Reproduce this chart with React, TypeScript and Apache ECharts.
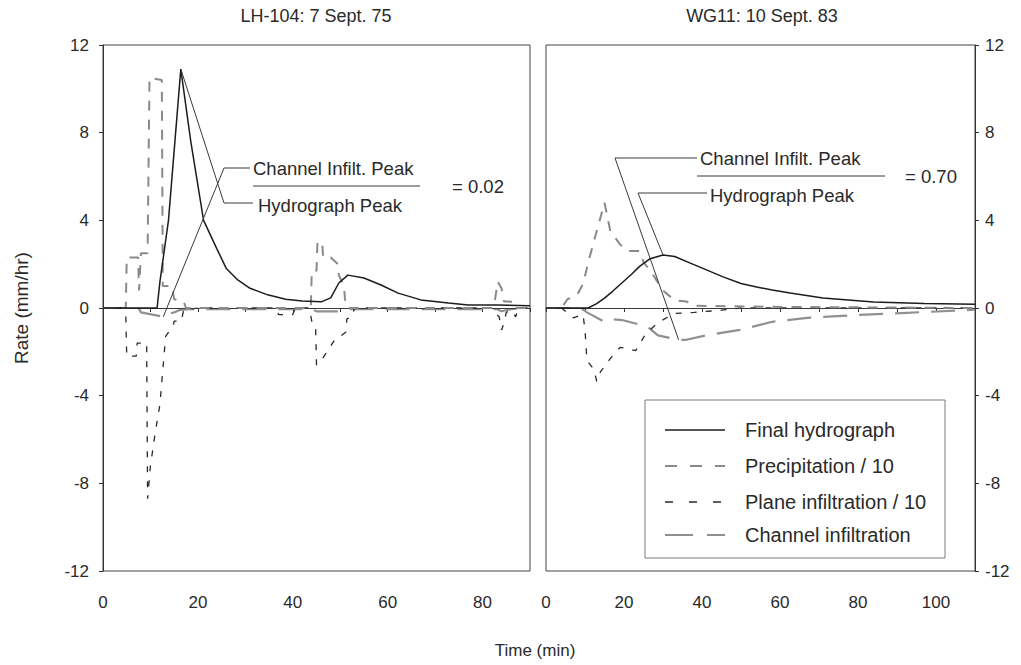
import React, { useEffect, useRef } from "react";
import * as echarts from "echarts";

const leftTitle = "LH-104: 7 Sept. 75";
const rightTitle = "WG11: 10 Sept. 83";
const xAxisName = "Time (min)";
const yAxisName = "Rate (mm/hr)";
const seriesNames = ["Final hydrograph", "Precipitation / 10", "Plane infiltration / 10", "Channel infiltration"];
const leftRatio = "= 0.02";
const rightRatio = "= 0.70";
const peakTop = "Channel Infilt. Peak";
const peakBottom = "Hydrograph Peak";

// ---- Left panel: LH-104 ----
const lHydroT = [0, 11.4, 12, 13.8, 16.4, 18.5, 21.2, 24, 26, 28.4, 31, 34.7, 38.5, 42, 46, 48, 49.7, 51.6, 55, 58.6, 62.2, 67, 72.8, 77, 83, 90];
const lHydroV = [0, 0, 1.2, 4.0, 10.9, 7.6, 4.0, 2.7, 1.8, 1.28, 0.9, 0.6, 0.4, 0.32, 0.28, 0.46, 1.14, 1.5, 1.37, 1.05, 0.68, 0.37, 0.23, 0.14, 0.14, 0.1];

const lPrecT = [0, 4.8, 5, 7.4, 7.6, 8, 9.4, 9.8, 12.4, 12.6, 14.5, 15, 17, 17.5, 43.8, 44, 45, 45.2, 46.2, 46.4, 48, 49.5, 49.7, 50.8, 51, 51.5, 82, 82.5, 83.2, 84, 84.5, 86, 86.2, 90];
const lPrecV = [0, 0, 2.3, 2.3, 0.8, 2.5, 2.5, 10.5, 10.4, 1.0, 1.0, 0.4, 0.3, 0, 0, 1.7, 1.7, 3.0, 3.0, 2.3, 2.3, 2.0, 1.5, 1.0, 0.4, 0, 0, 0.2, 1.2, 0.9, 0.3, 0.3, 0, 0];

const lPlaneT = [0, 4.5, 4.8, 5, 7, 7.2, 9.2, 9.4, 10, 11, 12, 12.5, 13.2, 14.8, 15, 16.5, 17, 20, 36.5, 37, 40, 40.5, 43.5, 44, 44.8, 45, 46, 47.5, 49, 50, 51.2, 51.4, 52.5, 53, 82, 82.5, 83.5, 84, 84.5, 85, 86, 87, 87.5, 90];
const lPlaneV = [0, 0, -0.3, -2.2, -2.2, -1.6, -1.6, -8.7, -7.2, -5.7, -4.4, -3.1, -1.3, -0.8, -0.6, -0.6, -0.1, 0, 0, -0.3, -0.3, 0, 0, -0.6, -0.8, -2.6, -2.4, -1.9, -1.4, -1.3, -1.1, -0.5, -0.4, 0, 0, -0.2, -0.4, -1.0, -0.7, -0.2, -0.1, -0.4, 0, 0];

const lChanT = [0, 7.5, 8, 12.7, 13.2, 15, 16, 18, 44, 45, 50, 52, 83, 84, 86, 90];
const lChanV = [0, 0, -0.2, -0.4, -0.3, -0.2, -0.1, -0.05, -0.05, -0.15, -0.15, -0.05, -0.05, -0.15, -0.05, 0];

// ---- Right panel: WG11 ----
const rHydroT = [0, 10.8, 13, 15, 17, 19.8, 22, 24, 26.7, 30, 33, 37, 41, 45.4, 50, 54, 58, 62.6, 71, 84, 97, 110];
const rHydroV = [0, 0, 0.2, 0.45, 0.75, 1.2, 1.55, 1.9, 2.25, 2.42, 2.35, 2.05, 1.75, 1.42, 1.12, 0.96, 0.82, 0.68, 0.46, 0.27, 0.2, 0.17];

const rPrecT = [0, 4, 5.5, 8, 9.5, 11, 13, 15, 16.5, 19, 21, 24, 25, 27.5, 30, 33, 36, 38, 60, 110];
const rPrecV = [0, 0, 0.4, 0.6, 1.1, 2.2, 3.5, 4.8, 3.5, 2.9, 2.6, 2.6, 2.1, 1.5, 0.8, 0.35, 0.3, 0.1, 0.05, 0];

const rPlaneT = [0, 4, 7, 9.5, 10, 10.5, 12.3, 13, 14, 16.5, 19, 21, 23, 25.5, 28.8, 33, 38, 45, 50, 110];
const rPlaneV = [0, 0, -0.45, -0.3, -1.0, -2.4, -2.8, -3.35, -2.9, -2.3, -1.8, -1.85, -1.95, -1.2, -0.65, -0.25, -0.2, -0.1, 0, 0];

const rChanT = [0, 9, 10.5, 14.7, 16, 19.5, 26, 28.7, 34, 36, 41, 49.7, 58, 67, 80, 92.5, 105, 110];
const rChanV = [0, 0, -0.2, -0.6, -0.5, -0.55, -0.85, -1.25, -1.45, -1.45, -1.25, -1.0, -0.63, -0.45, -0.32, -0.22, -0.12, -0.08];

const FONT = "'Liberation Sans', Arial, Helvetica, sans-serif";
const TXT = "#2a2a2a";

const zip = (t: number[], v: number[]) => t.map((x, i) => [x, v[i]]);

const styles = [
  { color: "#1c1c1c", width: 1.5, type: "solid" as any },
  { color: "#8a8a8a", width: 2, type: [10, 9] as any },
  { color: "#2a2a2a", width: 1.3, type: [6, 9] as any },
  { color: "#909090", width: 2.2, type: [24, 12] as any },
];
const legendDash: any[] = [null, [12, 13], [8, 16], [28, 14]];

function makeSeries(grid: number, sets: number[][][]) {
  const order = [3, 2, 1, 0];
  return order.map((k) => {
    const s: any = {
      name: seriesNames[k],
      type: "line",
      xAxisIndex: grid,
      yAxisIndex: grid,
      data: sets[k],
      symbol: "none",
      showSymbol: false,
      lineStyle: styles[k],
      itemStyle: { color: styles[k].color },
      z: 3 + (3 - k),
    };
    if (k === 0) {
      s.markLine = {
        silent: true,
        symbol: "none",
        label: { show: false },
        lineStyle: { color: "#3a3a3a", width: 1, type: "solid" },
        data: [{ yAxis: 0 }],
      };
    }
    return s;
  });
}

function xAxisCfg(grid: number, max: number) {
  return {
    type: "value",
    gridIndex: grid,
    min: 0,
    max,
    interval: 10,
    axisLine: { show: true, lineStyle: { color: "#333", width: 1 } },
    axisTick: { show: true, length: 4, lineStyle: { color: "#333" } },
    splitLine: { show: false },
    axisLabel: {
      fontSize: 17,
      fontFamily: FONT,
      color: TXT,
      margin: 23,
      formatter: (v: number) => (v % 20 === 0 ? String(v) : ""),
    },
  };
}

function yAxisCfg(grid: number, pos: string) {
  return {
    type: "value",
    gridIndex: grid,
    position: pos,
    min: -12,
    max: 12,
    interval: 4,
    axisLine: { show: true, onZero: false, lineStyle: { color: "#333", width: 1 } },
    axisTick: { show: true, length: 4, lineStyle: { color: "#333" } },
    splitLine: { show: false },
    axisLabel: { fontSize: 17, fontFamily: FONT, color: TXT, margin: pos === "left" ? 14 : 10 },
  };
}

export default function App() {
  const ref = useRef<HTMLDivElement>(null);
  useEffect(() => {
    if (!ref.current) return;
    const chart = echarts.init(ref.current, null, { renderer: "svg" });
    const leftSets = [zip(lHydroT, lHydroV), zip(lPrecT, lPrecV), zip(lPlaneT, lPlaneV), zip(lChanT, lChanV)];
    const rightSets = [zip(rHydroT, rHydroV), zip(rPrecT, rPrecV), zip(rPlaneT, rPlaneV), zip(rChanT, rChanV)];
    const option: any = {
      animation: false,
      backgroundColor: "#ffffff",
      grid: [
        { left: 103, top: 45, width: 427, height: 526, show: true, borderColor: "#444", borderWidth: 1, backgroundColor: "transparent" },
        { left: 546, top: 45, width: 429, height: 526, show: true, borderColor: "#444", borderWidth: 1, backgroundColor: "transparent" },
      ],
      xAxis: [xAxisCfg(0, 90), xAxisCfg(1, 110)],
      yAxis: [yAxisCfg(0, "left"), yAxisCfg(1, "right")],
      series: [...makeSeries(0, leftSets), ...makeSeries(1, rightSets)],
    };
    chart.setOption(option);

    const px = (g: number, t: number, v: number) => chart.convertToPixel({ gridIndex: g } as any, [t, v]) as number[];
    const argmax = (a: number[]) => a.reduce((b, x, i) => (x > a[b] ? i : b), 0);
    const argmin = (a: number[]) => a.reduce((b, x, i) => (x < a[b] ? i : b), 0);
    const lPeak = px(0, lHydroT[argmax(lHydroV)], lHydroV[argmax(lHydroV)]);
    const lChanPk = px(0, lChanT[argmin(lChanV)], lChanV[argmin(lChanV)]);
    const rPeak = px(1, rHydroT[argmax(rHydroV)], rHydroV[argmax(rHydroV)]);
    const rChanPk = px(1, rChanT[argmin(rChanV)], rChanV[argmin(rChanV)]);

    const ln = (x1: number, y1: number, x2: number, y2: number, extra: any = {}) => ({
      type: "line",
      shape: { x1, y1, x2, y2 },
      style: { stroke: "#3a3a3a", lineWidth: 1, ...extra },
      z: 50,
    });
    const tx = (text: string, x: number, y: number, size = 18.5, align = "left") => ({
      type: "text",
      x,
      y,
      z: 50,
      style: { text, fontSize: size, fontFamily: FONT, fill: TXT, textAlign: align, textVerticalAlign: "middle" },
    });

    // legend (drawn manually, styles taken from series styles)
    const legendX = 645, legendY = 400, legendW = 300, legendH = 158;
    const rowY = [430, 466, 502, 535];
    const legendEls: any[] = [
      {
        type: "rect",
        shape: { x: legendX, y: legendY, width: legendW, height: legendH },
        style: { fill: "#fff", stroke: "#7a7a7a", lineWidth: 1 },
        z: 40,
      },
    ];
    seriesNames.forEach((name, k) => {
      legendEls.push(
        ln(665, rowY[k], 725, rowY[k], {
          stroke: styles[k].color,
          lineWidth: styles[k].width,
          lineDash: legendDash[k] || null,
        }),
      );
      legendEls.push(tx(name, 745, rowY[k], 20));
    });

    const graphic: any[] = [
      tx(leftTitle, 316, 16, 18, "center"),
      tx(rightTitle, 762, 16, 18, "center"),
      tx(xAxisName, 535, 650, 17, "center"),
      {
        type: "text",
        x: 21,
        y: 308,
        rotation: Math.PI / 2,
        z: 50,
        style: { text: yAxisName, fontSize: 19, fontFamily: FONT, fill: TXT, textAlign: "center", textVerticalAlign: "middle" },
      },
      // left annotation
      ln(224, 168, 250, 168),
      ln(224, 168, lChanPk[0], lChanPk[1]),
      ln(224, 203, 253, 203),
      ln(224, 203, lPeak[0], lPeak[1]),
      ln(253, 186, 420, 186),
      tx(peakTop, 253, 168),
      tx(peakBottom, 258, 205),
      tx(leftRatio, 452, 186),
      // right annotation
      ln(615, 158, 697, 158),
      ln(615, 158, rChanPk[0], rChanPk[1]),
      ln(638, 193, 707, 193),
      ln(638, 193, rPeak[0], rPeak[1]),
      ln(697, 176, 885, 176),
      tx(peakTop, 700, 158),
      tx(peakBottom, 710, 195),
      tx(rightRatio, 905, 176),
      ...legendEls,
    ];
    chart.setOption({ graphic });
    return () => chart.dispose();
  }, []);
  return <div ref={ref} style={{ position: "absolute", left: 0, top: 0, width: 1021, height: 665 }} />;
}
